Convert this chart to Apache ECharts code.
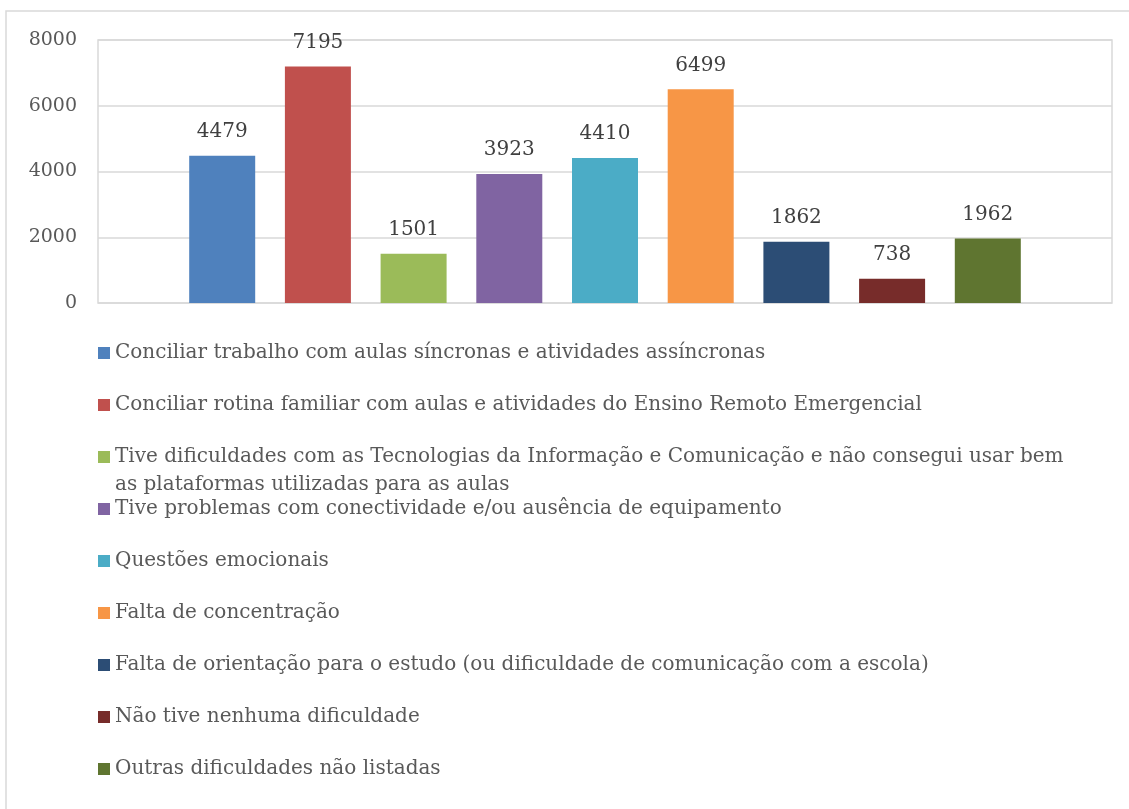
<!DOCTYPE html>
<html>
<head>
<meta charset="utf-8">
<script src="https://cdn.jsdelivr.net/npm/echarts@6/dist/echarts.min.js"></script>
<style>
  html, body { margin: 0; padding: 0; background: #fff; }
  #main { width: 1129px; height: 809px; }
</style>
</head>
<body>
<div id="main"></div>
<script>
var names = [
  'Conciliar trabalho com aulas síncronas e atividades assíncronas',
  'Conciliar rotina familiar com aulas e atividades do Ensino Remoto Emergencial',
  'Tive dificuldades com as Tecnologias da Informação e Comunicação e não consegui usar bem as plataformas utilizadas para as aulas',
  'Tive problemas com conectividade e/ou ausência de equipamento',
  'Questões emocionais',
  'Falta de concentração',
  'Falta de orientação para o estudo (ou dificuldade de comunicação com a escola)',
  'Não tive nenhuma dificuldade',
  'Outras dificuldades não listadas'
];
var values = [4479, 7195, 1501, 3923, 4410, 6499, 1862, 738, 1962];
var colors = ['#4f81bd', '#c0504d', '#9bbb59', '#8064a2', '#4bacc6', '#f79646', '#2c4d75', '#772c2a', '#5f7530'];
var yTicks = [0, 2000, 4000, 6000, 8000];

var font = 'DejaVu Serif';
var myChart = echarts.init(document.getElementById('main'));

var series = [];
var legends = [];
for (var i = 0; i < names.length; i++) {
  series.push({
    name: names[i],
    type: 'bar',
    data: [values[i]],
    barWidth: 66,
    barGap: '45%',
    itemStyle: { color: colors[i] },
    label: {
      show: true,
      position: 'top',
      distance: 14,
      color: '#404040',
      fontFamily: font,
      fontSize: 20
    }
  });
  var lg = {
    orient: 'vertical',
    left: 98,
    top: 339 + 52 * i,
    padding: 0,
    itemWidth: 12,
    itemHeight: 12,
    itemGap: 0,
    icon: 'rect',
    data: [names[i]],
    selectedMode: false,
    textStyle: { color: '#595959', fontFamily: font, fontSize: 20, lineHeight: 28 }
  };
  if (i == 2) {
    // texto longo quebra em duas linhas; linha vazia antes para o icone ficar na 1a linha
    lg.top = 339 + 52 * i - 28;
    lg.formatter = function (n) {
      var cut = n.indexOf(' as plataformas');
      return ' \n' + n.slice(0, cut) + '\n' + n.slice(cut + 1);
    };
  }
  legends.push(lg);
}

var option = {
  animation: false,
  textStyle: { fontFamily: font },
  grid: {
    left: 98,
    right: 17,
    top: 40,
    bottom: 506,
    show: true,
    borderColor: '#d9d9d9',
    borderWidth: 1.5
  },
  legend: legends,
  xAxis: {
    type: 'category',
    data: [''],
    axisLine: { show: false },
    axisTick: { show: false },
    axisLabel: { show: false }
  },
  yAxis: {
    type: 'value',
    min: yTicks[0],
    max: yTicks[yTicks.length - 1],
    interval: 2000,
    axisLine: { show: false },
    axisTick: { show: false },
    splitLine: { lineStyle: { color: '#d9d9d9', width: 1.5 } },
    axisLabel: {
      color: '#595959', fontFamily: font, fontSize: 19, margin: 21,
      formatter: function (v) { return String(v); }
    }
  },
  graphic: [{
    type: 'rect',
    shape: { x: 6, y: 11, width: 1200, height: 900 },
    style: { fill: 'none', stroke: '#d9d9d9', lineWidth: 1.5 },
    silent: true
  }],
  series: series
};

myChart.setOption(option, true);
</script>
</body>
</html>
